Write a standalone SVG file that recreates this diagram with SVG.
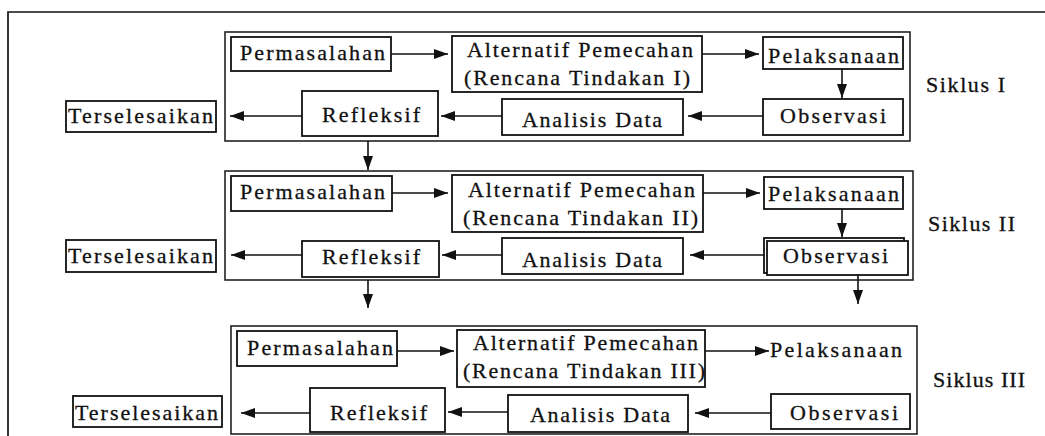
<svg xmlns="http://www.w3.org/2000/svg" width="1045" height="436" viewBox="0 0 1045 436">
<defs>
<style>
.bg{fill:#fff}
.frame{fill:none;stroke:#111;stroke-width:1.7}
.box{fill:#fff;stroke:#111;stroke-width:1.8}
.cyc{fill:none;stroke:#222;stroke-width:1.6}
text{font-family:"Liberation Serif",serif;font-size:22px;fill:#111;stroke:#111;stroke-width:0.3}
.ln{fill:none;stroke:#111;stroke-width:1.6}
</style>
<marker id="ah" markerUnits="userSpaceOnUse" markerWidth="14" markerHeight="10" refX="14" refY="5" orient="auto">
<path d="M0,0 L14,5 L0,10 Z" fill="#111"/>
</marker>
</defs>
<rect class="bg" x="0" y="0" width="1045" height="436"/>
<path class="frame" d="M8,437 V12 H1046"/>

<g id="cycle1">
<rect class="cyc" x="225" y="32" width="685" height="109"/>
<text x="926" y="92" textLength="79" lengthAdjust="spacing">Siklus I</text>
</g>
<g id="cycle2">
<rect class="cyc" x="225" y="171" width="688" height="109"/>
<text x="928" y="231" textLength="87" lengthAdjust="spacing">Siklus II</text>
</g>
<g id="cycle3">
<rect class="cyc" x="231" y="326" width="686" height="108"/>
<text x="933" y="387" textLength="92" lengthAdjust="spacing">Siklus III</text>
</g>

<g id="perm1"><rect class="box" x="231" y="37" width="160" height="34"/><text x="240" y="60" textLength="145" lengthAdjust="spacing">Permasalahan</text></g>
<g id="alt1"><rect class="box" x="452" y="36" width="250" height="56"/><text x="467" y="57" textLength="226" lengthAdjust="spacing">Alternatif Pemecahan</text><text x="464" y="85" textLength="226" lengthAdjust="spacing">(Rencana Tindakan I)</text></g>
<g id="pel1"><rect class="box" x="763" y="37" width="140" height="32"/><text x="768" y="63" textLength="131" lengthAdjust="spacing">Pelaksanaan</text></g>
<g id="obs1"><rect class="box" x="763" y="99" width="140" height="36"/><text x="780" y="123" textLength="106" lengthAdjust="spacing">Observasi</text></g>
<g id="ana1"><rect class="box" x="502" y="99" width="181" height="36"/><text x="522" y="127" textLength="140" lengthAdjust="spacing">Analisis Data</text></g>
<g id="ref1"><rect class="box" x="302" y="91" width="136" height="45"/><text x="322" y="122" textLength="98" lengthAdjust="spacing">Refleksif</text></g>
<g id="ter1"><rect class="box" x="66" y="101" width="150" height="31"/><text x="68" y="123" textLength="145" lengthAdjust="spacing">Terselesaikan</text></g>

<g id="perm2"><rect class="box" x="231" y="176" width="161" height="35"/><text x="240" y="199" textLength="145" lengthAdjust="spacing">Permasalahan</text></g>
<g id="alt2"><rect class="box" x="452" y="175" width="251" height="57"/><text x="468" y="197" textLength="227" lengthAdjust="spacing">Alternatif Pemecahan</text><text x="463" y="225" textLength="235" lengthAdjust="spacing">(Rencana Tindakan II)</text></g>
<g id="pel2"><rect class="box" x="764" y="177" width="139" height="32"/><text x="768" y="201" textLength="131" lengthAdjust="spacing">Pelaksanaan</text></g>
<g id="obs2"><rect class="box" x="764" y="238" width="140" height="35"/><rect class="box" x="767" y="241" width="141" height="34"/><text x="783" y="263" textLength="105" lengthAdjust="spacing">Observasi</text></g>
<g id="ana2"><rect class="box" x="502" y="238" width="181" height="36"/><text x="522" y="267" textLength="140" lengthAdjust="spacing">Analisis Data</text></g>
<g id="ref2"><rect class="box" x="302" y="241" width="137" height="36"/><text x="322" y="264" textLength="98" lengthAdjust="spacing">Refleksif</text></g>
<g id="ter2"><rect class="box" x="66" y="240" width="150" height="32"/><text x="68" y="263" textLength="145" lengthAdjust="spacing">Terselesaikan</text></g>

<g id="perm3"><rect class="box" x="237" y="331" width="160" height="35"/><text x="247" y="355" textLength="146" lengthAdjust="spacing">Permasalahan</text></g>
<g id="alt3"><rect class="box" x="457" y="330" width="248" height="57"/><text x="473" y="350" textLength="225" lengthAdjust="spacing">Alternatif Pemecahan</text><text x="463" y="378" textLength="242" lengthAdjust="spacing">(Rencana Tindakan III)</text></g>
<g id="pel3"><text x="770" y="357" textLength="132" lengthAdjust="spacing">Pelaksanaan</text></g>
<g id="obs3"><rect class="box" x="771" y="394" width="139" height="35"/><text x="790" y="420" textLength="108" lengthAdjust="spacing">Observasi</text></g>
<g id="ana3"><rect class="box" x="508" y="395" width="180" height="37"/><text x="530" y="422" textLength="140" lengthAdjust="spacing">Analisis Data</text></g>
<g id="ref3"><rect class="box" x="310" y="388" width="135" height="44"/><text x="330" y="420" textLength="97" lengthAdjust="spacing">Refleksif</text></g>
<g id="ter3"><rect class="box" x="73" y="396" width="149" height="31"/><text x="75" y="420" textLength="143" lengthAdjust="spacing">Terselesaikan</text></g>

<g id="connectors" class="ln" marker-end="url(#ah)">
<line x1="391" y1="54" x2="448" y2="54"/>
<line x1="702" y1="54" x2="759" y2="54"/>
<line x1="842" y1="69" x2="842" y2="98"/>
<line x1="763" y1="116" x2="688" y2="116"/>
<line x1="502" y1="116" x2="441" y2="116"/>
<line x1="302" y1="116" x2="230" y2="116"/>
<line x1="368" y1="141" x2="368" y2="170"/>
<line x1="392" y1="193" x2="448" y2="193"/>
<line x1="703" y1="193" x2="760" y2="193"/>
<line x1="842" y1="209" x2="842" y2="237"/>
<line x1="764" y1="255" x2="690" y2="255"/>
<line x1="502" y1="255" x2="442" y2="255"/>
<line x1="302" y1="255" x2="231" y2="255"/>
<line x1="368" y1="280" x2="368" y2="308"/>
<line x1="858" y1="275" x2="858" y2="304"/>
<line x1="397" y1="351" x2="454" y2="351"/>
<line x1="705" y1="351" x2="769" y2="351"/>
<line x1="771" y1="413" x2="695" y2="413"/>
<line x1="508" y1="412" x2="448" y2="412"/>
<line x1="310" y1="413" x2="241" y2="413"/>
</g>
</svg>
